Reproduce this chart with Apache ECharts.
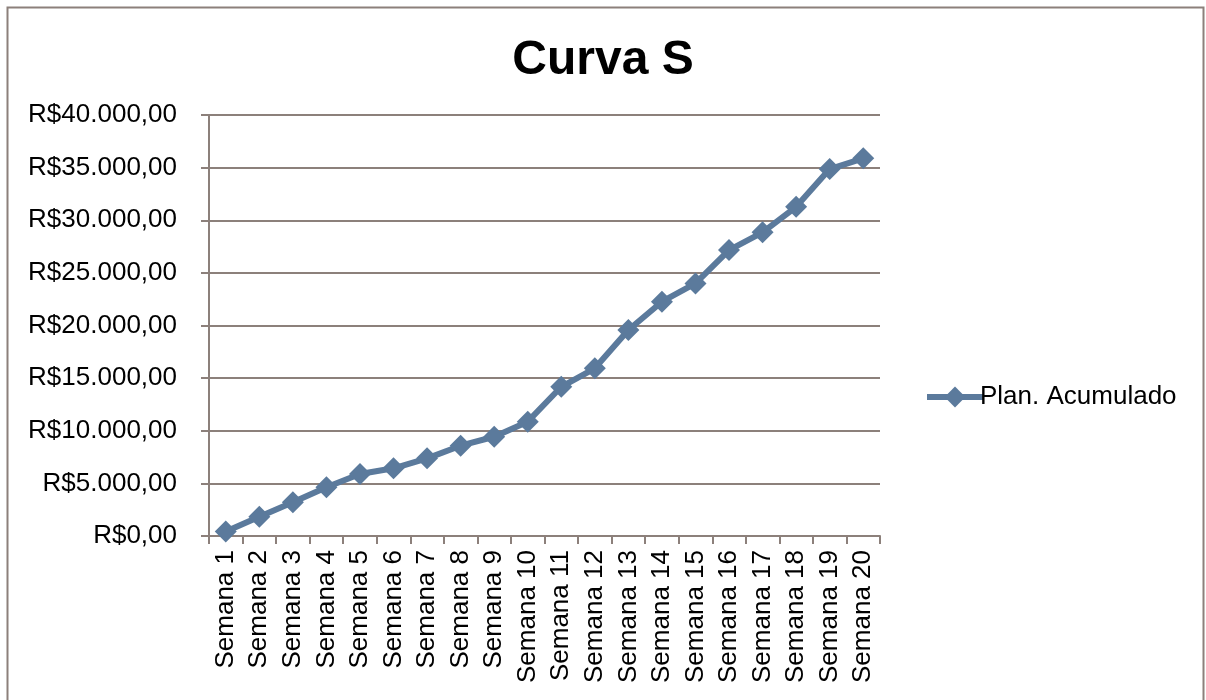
<!DOCTYPE html>
<html>
<head>
<meta charset="utf-8">
<script src="https://cdn.jsdelivr.net/npm/echarts@6/dist/echarts.min.js"></script>
<style>html,body{margin:0;padding:0;background:#fff}#c{width:1206px;height:700px}</style>
</head>
<body>
<div id="c"></div>
<script>
const categories = ['Semana 1','Semana 2','Semana 3','Semana 4','Semana 5','Semana 6','Semana 7','Semana 8','Semana 9','Semana 10','Semana 11','Semana 12','Semana 13','Semana 14','Semana 15','Semana 16','Semana 17','Semana 18','Semana 19','Semana 20'];
const planAcumulado = [420, 1830, 3200, 4630, 5890, 6430, 7380, 8580, 9430, 10860, 14180, 15930, 19570, 22260, 24000, 27170, 28850, 31280, 34860, 35880];
const seriesName = 'Plan. Acumulado';
const titleText = 'Curva S';

function fmt(v){
  const s = Math.round(v).toString().replace(/\B(?=(\d{3})+(?!\d))/g,'.');
  return 'R$' + s + ',00';
}
const axisColor = '#8C807B';
const lineColor = '#5B7A9C';
const chart = echarts.init(document.getElementById('c'));
chart.setOption({
  animation:false,
  backgroundColor:'#fff',
  textStyle:{fontFamily:'Liberation Sans, Arial, sans-serif'},
  graphic:[{type:'rect',shape:{x:7.5,y:7.5,width:1196,height:710},style:{fill:'none',stroke:axisColor,lineWidth:2},z:-1}],
  title:{text:titleText,left:'center',top:32,textStyle:{fontSize:48,fontWeight:'bold',color:'#000',fontFamily:'Liberation Sans, Arial, sans-serif'}},
  legend:{data:[seriesName],left:919,top:379,itemWidth:56,itemHeight:26,itemGap:0,
    lineStyle:{width:6,color:lineColor},
    itemStyle:{color:lineColor},
    textStyle:{fontSize:26,color:'#000',padding:[0,0,0,-8]}},
  grid:{left:209,right:326,top:115,bottom:164,containLabel:false},
  xAxis:{type:'category',data:categories,boundaryGap:true,
    axisLine:{lineStyle:{color:axisColor,width:2}},
    axisTick:{show:true,length:8,lineStyle:{color:axisColor,width:2},alignWithLabel:false},
    axisLabel:{rotate:90,fontSize:26,color:'#000',margin:14,interval:0}},
  yAxis:{type:'value',min:0,max:40000,interval:5000,
    axisLine:{show:true,lineStyle:{color:axisColor,width:2}},
    axisTick:{show:true,length:8,lineStyle:{color:axisColor,width:2}},
    splitLine:{lineStyle:{color:axisColor,width:2}},
    axisLabel:{fontSize:26,color:'#000',margin:32,formatter:fmt}},
  series:[{name:seriesName,type:'line',data:planAcumulado,
    symbol:'diamond',symbolSize:22,
    lineStyle:{color:lineColor,width:6},
    itemStyle:{color:lineColor},
    emphasis:{disabled:true}}]
});
</script>
</body>
</html>
